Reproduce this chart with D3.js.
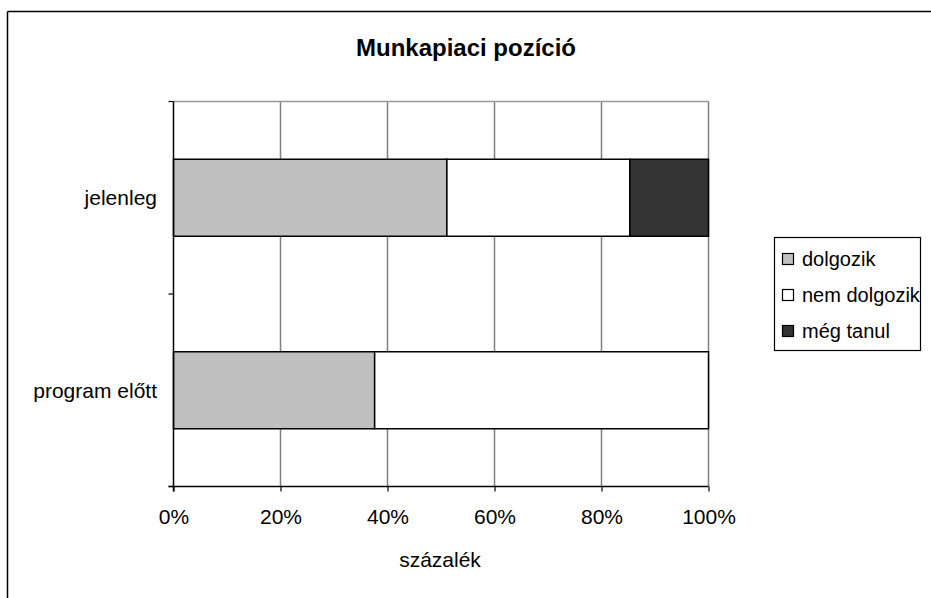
<!DOCTYPE html>
<html>
<head>
<meta charset="utf-8">
<script src="https://cdn.jsdelivr.net/npm/d3@7"></script>
<style>
  html, body { margin: 0; padding: 0; background: #fff; }
  svg { display: block; font-family: "Liberation Sans", Arial, sans-serif; }
</style>
</head>
<body>
<svg id="chart" width="931" height="598"></svg>
<script>
// Data
const categories = ["jelenleg", "program előtt"];
const seriesNames = ["dolgozik", "nem dolgozik", "még tanul"];
const dolgozik = [51.1, 37.6];
const nemDolgozik = [34.2, 62.4];
const megTanul = [14.7, 0];
const xTicks = [0, 20, 40, 60, 80, 100];
const colors = ["#c0c0c0", "#ffffff", "#333333"];

const svg = d3.select("#chart");
const W = 931, H = 598;

// outer frame (left and top edges visible)
svg.append("line").attr("x1", 7.5).attr("x2", W).attr("y1", 11.5).attr("y2", 11.5)
  .attr("stroke", "#000").attr("stroke-width", 1.5);
svg.append("line").attr("x1", 7.5).attr("x2", 7.5).attr("y1", 11.5).attr("y2", H)
  .attr("stroke", "#000").attr("stroke-width", 1.5);

const plot = { left: 173.5, right: 708.5, top: 101.5, bottom: 486.5 };

const x = d3.scaleLinear().domain([0, 100]).range([plot.left, plot.right]);
const y = d3.scaleBand().domain(categories).range([plot.top, plot.bottom])
  .paddingInner(0.6).paddingOuter(0.3);
const yOuter = d3.scaleBand().domain(categories).range([plot.top, plot.bottom]);

// vertical gridlines
svg.append("g").selectAll("line").data(xTicks.slice(1)).join("line")
  .attr("x1", d => x(d)).attr("x2", d => x(d))
  .attr("y1", plot.top).attr("y2", plot.bottom)
  .attr("stroke", "#808080").attr("stroke-width", 1.5);
// plot top border
svg.append("line").attr("x1", plot.left).attr("x2", plot.right)
  .attr("y1", plot.top).attr("y2", plot.top)
  .attr("stroke", "#999").attr("stroke-width", 1.5);

// stacked bars
const rows = categories.map((c, i) => ({ cat: c, dolgozik: dolgozik[i], "nem dolgozik": nemDolgozik[i], "még tanul": megTanul[i] }));
const stack = d3.stack().keys(seriesNames)(rows);
svg.append("g").selectAll("g").data(stack).join("g")
  .attr("fill", (d, i) => colors[i])
  .selectAll("rect").data(d => d.filter(p => p[1] - p[0] > 0)).join("rect")
  .attr("x", d => x(d[0]))
  .attr("width", d => x(d[1]) - x(d[0]))
  .attr("y", d => y(d.data.cat))
  .attr("height", y.bandwidth())
  .attr("stroke", "#000").attr("stroke-width", 1.5);

// x axis
const xAxis = d3.axisBottom(x).tickValues(xTicks).tickFormat(d => d + "%").tickSize(5).tickPadding(18);
const gx = svg.append("g").attr("transform", `translate(0,${plot.bottom})`).call(xAxis);
gx.select(".domain").attr("stroke", "#000").attr("stroke-width", 1.5)
  .attr("d", `M${plot.left - 5},0H${plot.right}`);
gx.selectAll(".tick line").attr("stroke", "#000").attr("stroke-width", 1.2);
gx.selectAll(".tick text").attr("font-size", 21).attr("fill", "#000")
  .attr("font-family", "Liberation Sans, Arial, sans-serif");

// y axis (left line with ticks at band boundaries)
svg.append("line").attr("x1", plot.left).attr("x2", plot.left)
  .attr("y1", plot.top).attr("y2", plot.bottom + 5)
  .attr("stroke", "#000").attr("stroke-width", 1.5);
const yBounds = [plot.top].concat(categories.map(c => yOuter(c) + yOuter.bandwidth()));
svg.append("g").selectAll("line").data(yBounds).join("line")
  .attr("x1", plot.left - 5).attr("x2", plot.left)
  .attr("y1", d => d).attr("y2", d => d)
  .attr("stroke", "#000").attr("stroke-width", 1.2);
svg.append("g").selectAll("text").data(categories).join("text")
  .attr("x", 157).attr("y", d => yOuter(d) + yOuter.bandwidth() / 2)
  .attr("dy", "0.35em").attr("text-anchor", "end")
  .attr("font-size", 21).attr("fill", "#000")
  .text(d => d);

// title
svg.append("text").attr("x", 466).attr("y", 55.5).attr("text-anchor", "middle")
  .attr("font-size", 24).attr("font-weight", "bold").attr("fill", "#000")
  .text("Munkapiaci pozíció");

// x axis title
svg.append("text").attr("x", 440).attr("y", 567).attr("text-anchor", "middle")
  .attr("font-size", 21).attr("fill", "#000").text("százalék");

// legend
const lg = svg.append("g");
lg.append("rect").attr("x", 774.5).attr("y", 237.5).attr("width", 146).attr("height", 113)
  .attr("fill", "#fff").attr("stroke", "#000").attr("stroke-width", 1.2);
const items = lg.selectAll("g.item").data(seriesNames).join("g").attr("class", "item")
  .attr("transform", (d, i) => `translate(0,${259 + i * 36})`);
items.append("rect").attr("x", 782.5).attr("y", -5.5).attr("width", 11).attr("height", 11)
  .attr("fill", (d, i) => colors[i]).attr("stroke", "#000").attr("stroke-width", 1.2);
items.append("text").attr("x", 802).attr("y", 0).attr("dy", "0.35em")
  .attr("font-size", 20).attr("fill", "#000").text(d => d);
</script>
</body>
</html>
